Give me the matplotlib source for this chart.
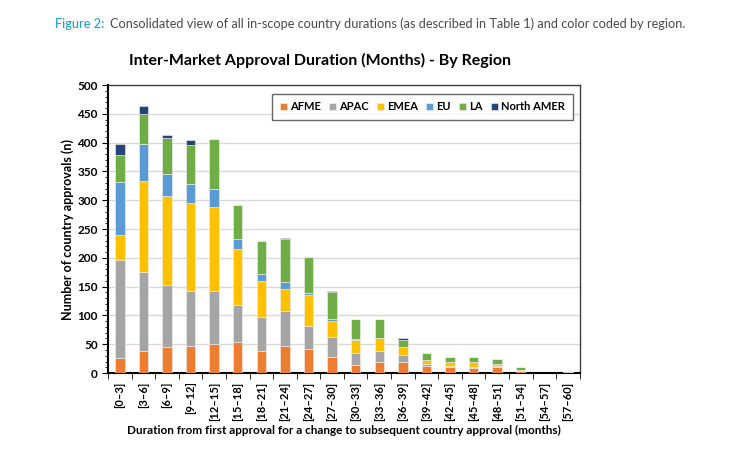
import numpy as np
import matplotlib.pyplot as plt

# duration buckets (months)
categories = ["[0\u20133]", "[3\u20136]", "[6\u20139]", "[9\u201312]", "[12\u201315]",
              "[15\u201318]", "[18\u201321]", "[21\u201324]", "[24\u201327]", "[27\u201330]",
              "[30\u201333]", "[33\u201336]", "[36\u201339]", "[39\u201342]", "[42\u201345]",
              "[45\u201348]", "[48\u201351]", "[51\u201354]", "[54\u201357]", "[57\u201360]"]

afme = [26, 39, 46, 47, 51, 54, 38, 47, 42, 28, 14, 20, 20, 12, 10, 8, 10, 4, 0, 0]
apac = [170, 137, 107, 95, 92, 64, 59, 60, 40, 34, 21, 18, 11, 4, 3, 3, 3, 0, 0, 0]
emea = [43, 157, 155, 153, 145, 98, 63, 39, 54, 29, 22, 23, 14, 7, 7, 8, 3, 2, 0, 0]
eu = [93, 65, 38, 34, 31, 16, 12, 12, 3, 3, 2, 0, 0, 0, 0, 1, 0, 0, 0, 0]
la = [47, 51, 62, 67, 87, 59, 58, 74, 63, 46, 35, 33, 12, 12, 8, 8, 8, 5, 0, 2]
north_amer = [18, 14, 6, 9, 1, 0, 0, 2, 0, 2, 0, 0, 3, 0, 0, 0, 0, 0, 0, 0]

series = [("AFME", afme, "#ED7D31"), ("APAC", apac, "#A5A5A5"), ("EMEA", emea, "#FFC000"),
          ("EU", eu, "#5B9BD5"), ("LA", la, "#70AD47"), ("North AMER", north_amer, "#264478")]

plt.rcParams['font.family'] = ['Lato', 'DejaVu Sans']

fig = plt.figure(figsize=(7.5, 4.5), dpi=100)
ax = fig.add_axes([0.144, 0.171, 0.629, 0.64])

x = np.arange(len(categories))
bottom = np.zeros(len(categories))
for name, vals, col in series:
    ax.bar(x, vals, 0.4, bottom=bottom, color=col, label=name,
           edgecolor="#f2f2f2", linewidth=0.4, zorder=3)
    bottom += np.array(vals)

ax.set_xlim(-0.5, len(categories) - 0.5)
ax.set_ylim(0, 500)
ax.set_yticks(np.arange(0, 501, 50))
ax.set_yticks(np.arange(0, 501, 10), minor=True)
ax.set_xticks(x)
ax.set_xticklabels(categories, rotation=90, fontsize=8, fontweight="bold")
ax.set_xticks(np.arange(-0.5, len(categories), 1), minor=True)
ax.tick_params(axis="x", which="major", length=0, pad=6)
ax.tick_params(axis="x", which="minor", length=4, direction="out")
ax.tick_params(axis="y", which="major", length=4, labelsize=8.5)
ax.tick_params(axis="y", which="minor", length=2)
for lbl in ax.get_yticklabels():
    lbl.set_fontweight("bold")

ax.grid(axis="y", color="#d9d9d9", linewidth=1, zorder=0)
for s in ["left", "bottom"]:
    ax.spines[s].set_linewidth(1.5)
    ax.spines[s].set_color("black")
for s in ["top", "right"]:
    ax.spines[s].set_linewidth(1)
    ax.spines[s].set_color("#404040")

ax.set_ylabel("Number of country approvals (n)", fontsize=9, fontweight="bold", labelpad=2)
ax.set_xlabel("Duration from first approval for a change to subsequent country approval (months)",
              fontsize=8.5, fontweight="bold", labelpad=3)

leg = ax.legend(ncol=6, loc="upper right", bbox_to_anchor=(0.985, 0.97),
                prop={"weight": "bold", "size": 8}, frameon=True, fancybox=False,
                handlelength=0.6, handleheight=0.6, handletextpad=0.3, columnspacing=0.75,
                borderpad=0.7, borderaxespad=0)
leg.get_frame().set_edgecolor("#404040")
leg.get_frame().set_linewidth(1)

fig.text(0.427, 0.866, "Inter-Market Approval Duration (Months) - By Region",
         ha="center", va="center", fontsize=11.5, fontweight="bold")

fig.text(0.073, 0.947, "Figure 2:", color="#1ba1c9", fontsize=9.2, fontweight="medium",
         ha="left", va="center")
fig.text(0.146, 0.947, "Consolidated view of all in-scope country durations (as described in Table 1) and color coded by region.",
         color="#4a4a4a", fontsize=9.2, ha="left", va="center")

fig.savefig("out.png", dpi=100)
